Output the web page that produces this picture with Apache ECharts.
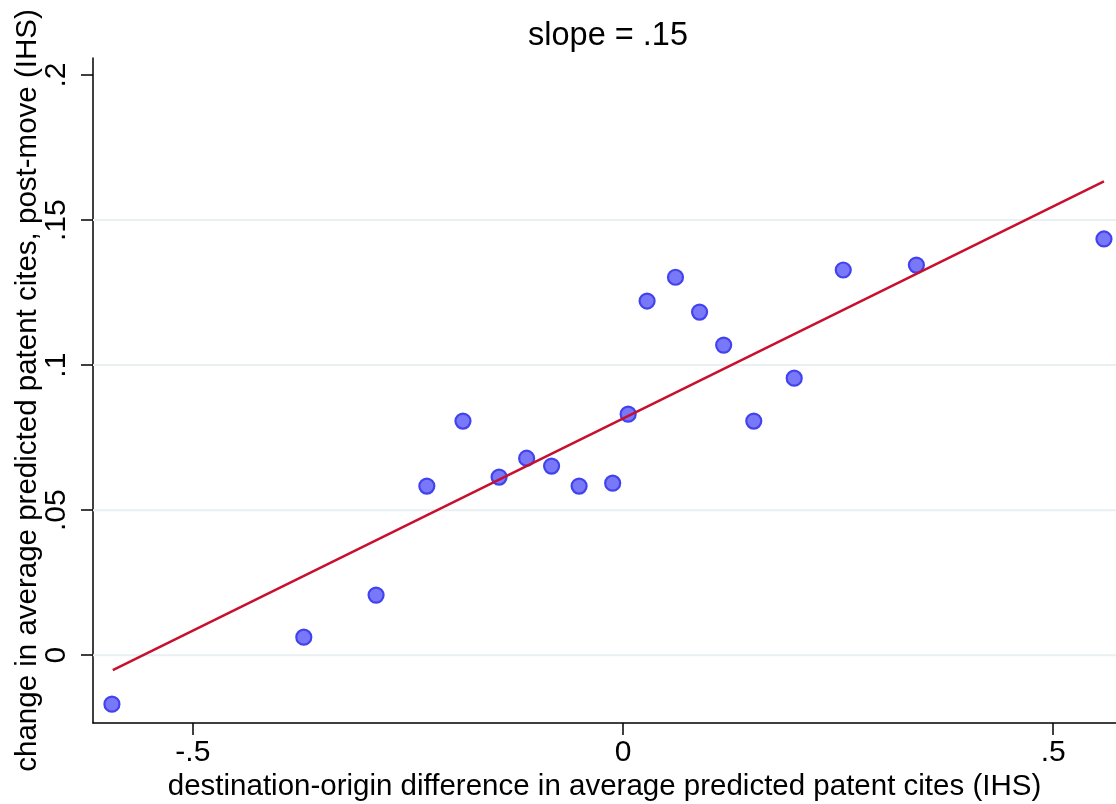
<!DOCTYPE html>
<html>
<head>
<meta charset="utf-8">
<script src="https://cdn.jsdelivr.net/npm/echarts@6/dist/echarts.min.js"></script>
<style>
  html, body { margin: 0; padding: 0; background: #fff; }
  #chart { width: 1116px; height: 804px; }
</style>
</head>
<body>
<div id="chart"></div>
<script>
// binned means (binscatter)
const binX = [-0.594, -0.371, -0.287, -0.228, -0.186, -0.144, -0.112, -0.083, -0.051, -0.012,
              0.006, 0.028, 0.061, 0.089, 0.117, 0.152, 0.199, 0.256, 0.341, 0.559];
const binY = [-0.0169, 0.0062, 0.0207, 0.0583, 0.0807, 0.0614, 0.0679, 0.0652, 0.0583, 0.0593,
              0.0831, 0.1221, 0.1303, 0.1183, 0.1069, 0.0807, 0.0955, 0.1328, 0.1345, 0.1435];

// fitted line end points
const fitX = [-0.593, 0.559];
const fitY = [-0.0052, 0.1634];

const xTicks = [-0.5, 0, 0.5];
const yTicks = [0, 0.05, 0.1, 0.15, 0.2];
const yGrid  = [0, 0.05, 0.1, 0.15];

const X_MIN = -0.616, X_MAX = 0.573;
const Y_MIN = -0.0234, Y_MAX = 0.2059;

const FONT = 'Liberation Sans, Arial, sans-serif';

// Stata style numbers: .15, -.5, 0
const fmt = (v) => v === 0 ? '0' : String(+v.toFixed(4)).replace(/^(-?)0\./, '$1.');

const chart = echarts.init(document.getElementById('chart'), null, { renderer: 'canvas' });

// gridlines as plain line series (top tick gets none, like the original)
const gridSeries = yGrid.map((v) => ({
    type: 'line',
    data: [[X_MIN, v], [X_MAX, v]],
    silent: true,
    showSymbol: false,
    symbol: 'none',
    z: 1,
    lineStyle: { color: '#e8f0f2', width: 2 },
}));

chart.setOption({
    backgroundColor: '#fff',
    animation: false,
    title: {
        text: 'slope = .15',
        left: 603,
        top: 15,
        textAlign: 'center',
        textStyle: { fontFamily: FONT, fontSize: 32.5, fontWeight: 'normal', color: '#000' },
    },
    grid: { left: 93, right: 0, top: 58, bottom: 81, containLabel: false, outerBoundsMode: 'none' },
    xAxis: {
        type: 'value',
        min: X_MIN,
        max: X_MAX,
        name: 'destination-origin difference in average predicted patent cites (IHS)',
        nameLocation: 'middle',
        nameGap: 49,
        nameMoveOverlap: false,
        nameTextStyle: { fontFamily: FONT, fontSize: 29.5, color: '#000' },
        axisLine: { show: true, onZero: false, lineStyle: { color: '#000', width: 1.5 } },
        axisTick: { show: true, length: 12, customValues: xTicks, lineStyle: { color: '#000', width: 1.5 } },
        axisLabel: { customValues: xTicks, formatter: fmt, margin: 15,
                     fontFamily: FONT, fontSize: 30, color: '#000' },
        splitLine: { show: false },
    },
    yAxis: {
        type: 'value',
        min: Y_MIN,
        max: Y_MAX,
        name: 'change in average predicted patent cites, post-move (IHS)',
        nameLocation: 'middle',
        nameRotate: 90,
        nameGap: 50,
        nameMoveOverlap: false,
        nameTextStyle: { fontFamily: FONT, fontSize: 29.5, color: '#000' },
        axisLine: { show: true, onZero: false, lineStyle: { color: '#000', width: 1.5 } },
        axisTick: { show: true, length: 12, customValues: yTicks, lineStyle: { color: '#000', width: 1.5 } },
        axisLabel: { customValues: yTicks, formatter: fmt, rotate: 90, margin: 21,
                     fontFamily: FONT, fontSize: 30, color: '#000' },
        splitLine: { show: false },
    },
    series: [
        ...gridSeries,
        {
            type: 'scatter',
            data: binX.map((x, i) => [x, binY[i]]),
            symbol: 'circle',
            symbolSize: 15,
            z: 3,
            itemStyle: { color: '#7878f8', borderColor: '#4343ee', borderWidth: 2.2, opacity: 1 },
        },
        {
            type: 'line',
            data: fitX.map((x, i) => [x, fitY[i]]),
            showSymbol: false,
            symbol: 'none',
            z: 4,
            lineStyle: { color: '#c8102e', width: 2.5 },
        },
    ],
});
</script>
</body>
</html>
